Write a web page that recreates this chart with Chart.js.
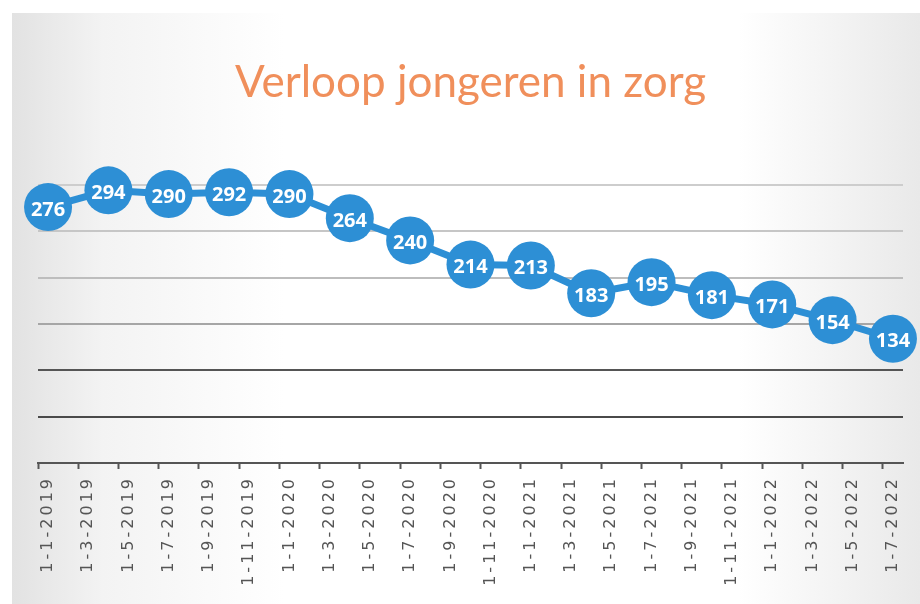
<!DOCTYPE html>
<html>
<head>
<meta charset="utf-8">
<script src="https://cdn.jsdelivr.net/npm/chart.js@4.4.0/dist/chart.umd.min.js"></script>
<style>
  html, body { margin: 0; padding: 0; background: #fff; }
  #wrap { width: 920px; height: 604px; }
</style>
</head>
<body>
<div id="wrap"><canvas id="graph1"></canvas></div>
<script>
var tickLabels = ['1-1-2019', '1-3-2019', '1-5-2019', '1-7-2019', '1-9-2019', '1-11-2019',
    '1-1-2020', '1-3-2020', '1-5-2020', '1-7-2020', '1-9-2020', '1-11-2020',
    '1-1-2021', '1-3-2021', '1-5-2021', '1-7-2021', '1-9-2021', '1-11-2021',
    '1-1-2022', '1-3-2022', '1-5-2022', '1-7-2022'];

var pointDates = ['1-1-2019', '1-4-2019', '1-7-2019', '1-10-2019',
    '1-1-2020', '1-4-2020', '1-7-2020', '1-10-2020',
    '1-1-2021', '1-4-2021', '1-7-2021', '1-10-2021',
    '1-1-2022', '1-4-2022', '1-7-2022'];

var jongeren = [276, 294, 290, 292, 290, 264, 240, 214, 213, 183, 195, 181, 171, 154, 134];

// date axis: one slot per month, like the Excel original
var months = [];
for (var y = 2019; y <= 2022; y++) {
    for (var m = 1; m <= 12; m++) {
        months.push('1-' + m + '-' + y);
        if (y === 2022 && m === 7) break;
    }
}

var blue = '#2d8fd5';

var gridColors = { 0: 'rgba(0,0,0,0)', 50: '#4a4a4a', 100: '#555555', 150: '#a6a6a6', 200: '#bdbdbd', 250: '#c6c6c6', 300: '#cdcdcd' };

var paper = {
    id: 'paper',
    beforeDraw: function(chart) {
        var ctx = chart.ctx;
        ctx.save();
        ctx.fillStyle = '#fff';
        ctx.fillRect(0, 0, chart.width, chart.height);
        var g = ctx.createLinearGradient(12, 0, chart.width, 0);
        g.addColorStop(0, '#e2e2e2');
        g.addColorStop(0.1, '#f3f3f3');
        g.addColorStop(0.3, '#ffffff');
        g.addColorStop(0.8, '#ffffff');
        g.addColorStop(1, '#e9e9e9');
        ctx.fillStyle = g;
        ctx.fillRect(12, 13, chart.width - 12, chart.height - 13);
        ctx.restore();
    }
};

// the date labels in the original are widely spaced
var spacedLabels = {
    id: 'spacedLabels',
    afterLayout: function(chart) {
        var s = chart.scales.x;
        if (s._spaced) return;
        var orig = s.drawLabels;
        s.drawLabels = function(area) {
            chart.ctx.save();
            chart.ctx.letterSpacing = '3px';
            orig.call(this, area);
            chart.ctx.restore();
        };
        s._spaced = true;
    }
};

// values written inside the bubbles
var valueLabels = {
    id: 'valueLabels',
    afterDatasetsDraw: function(chart) {
        var ctx = chart.ctx;
        var meta = chart.getDatasetMeta(0);
        ctx.save();
        ctx.font = 'bold 20px "Open Sans"';
        ctx.fillStyle = '#fff';
        ctx.textAlign = 'center';
        ctx.textBaseline = 'middle';
        meta.data.forEach(function(pt, i) {
            ctx.fillText(jongeren[i], pt.x, pt.y + 3);
        });
        ctx.restore();
    }
};

var ctx = document.getElementById('graph1').getContext('2d');
var data = {
    labels: months,
    datasets: [{
        label: 'Jongeren in zorg',
        data: pointDates.map(function(d, i) { return { x: d, y: jongeren[i] }; }),
        borderColor: blue,
        backgroundColor: blue,
        borderWidth: 7,
        pointRadius: 24,
        pointHoverRadius: 24,
        pointBorderWidth: 0,
        clip: false
    }]
};

var config = {
    type: 'line',
    data: data,
    options: {
        responsive: true,
        maintainAspectRatio: false,
        animation: false,
        layout: { autoPadding: false, padding: { left: 38, right: 17, top: 0, bottom: 0 } },
        plugins: {
            legend: { display: false },
            tooltip: { enabled: false },
            title: {
                display: true,
                text: 'Verloop jongeren in zorg',
                color: '#f08f5b',
                font: { family: 'Lato', size: 44, weight: 'normal' },
                padding: { top: 56, bottom: 76 }
            }
        },
        scales: {
            x: {
                type: 'category',
                offset: true,
                grid: {
                    offset: true,
                    drawOnChartArea: false,
                    tickLength: 6,
                    tickWidth: 2,
                    tickColor: function(c) { return c.index % 2 === 0 ? '#555' : 'rgba(0,0,0,0)'; }
                },
                border: { color: '#555', width: 2 },
                ticks: {
                    autoSkip: false,
                    minRotation: 90,
                    maxRotation: 90,
                    padding: 7,
                    color: '#555',
                    font: { family: 'DejaVu Sans', size: 16 },
                    callback: function(val) {
                        var l = this.getLabelForValue(val);
                        return tickLabels.indexOf(l) >= 0 ? l : '';
                    }
                },
                afterFit: function(s) { s.height = 141; }
            },
            y: {
                min: 0,
                max: 300,
                ticks: { display: false, stepSize: 50 },
                border: { display: false },
                grid: {
                    drawTicks: false,
                    lineWidth: 2,
                    color: function(c) { return gridColors[c.tick.value] || '#ccc'; }
                },
                afterFit: function(s) { s.width = 0; }
            }
        }
    },
    plugins: [paper, spacedLabels, valueLabels]
};
var graph1 = new Chart(ctx, config);
</script>
</body>
</html>
